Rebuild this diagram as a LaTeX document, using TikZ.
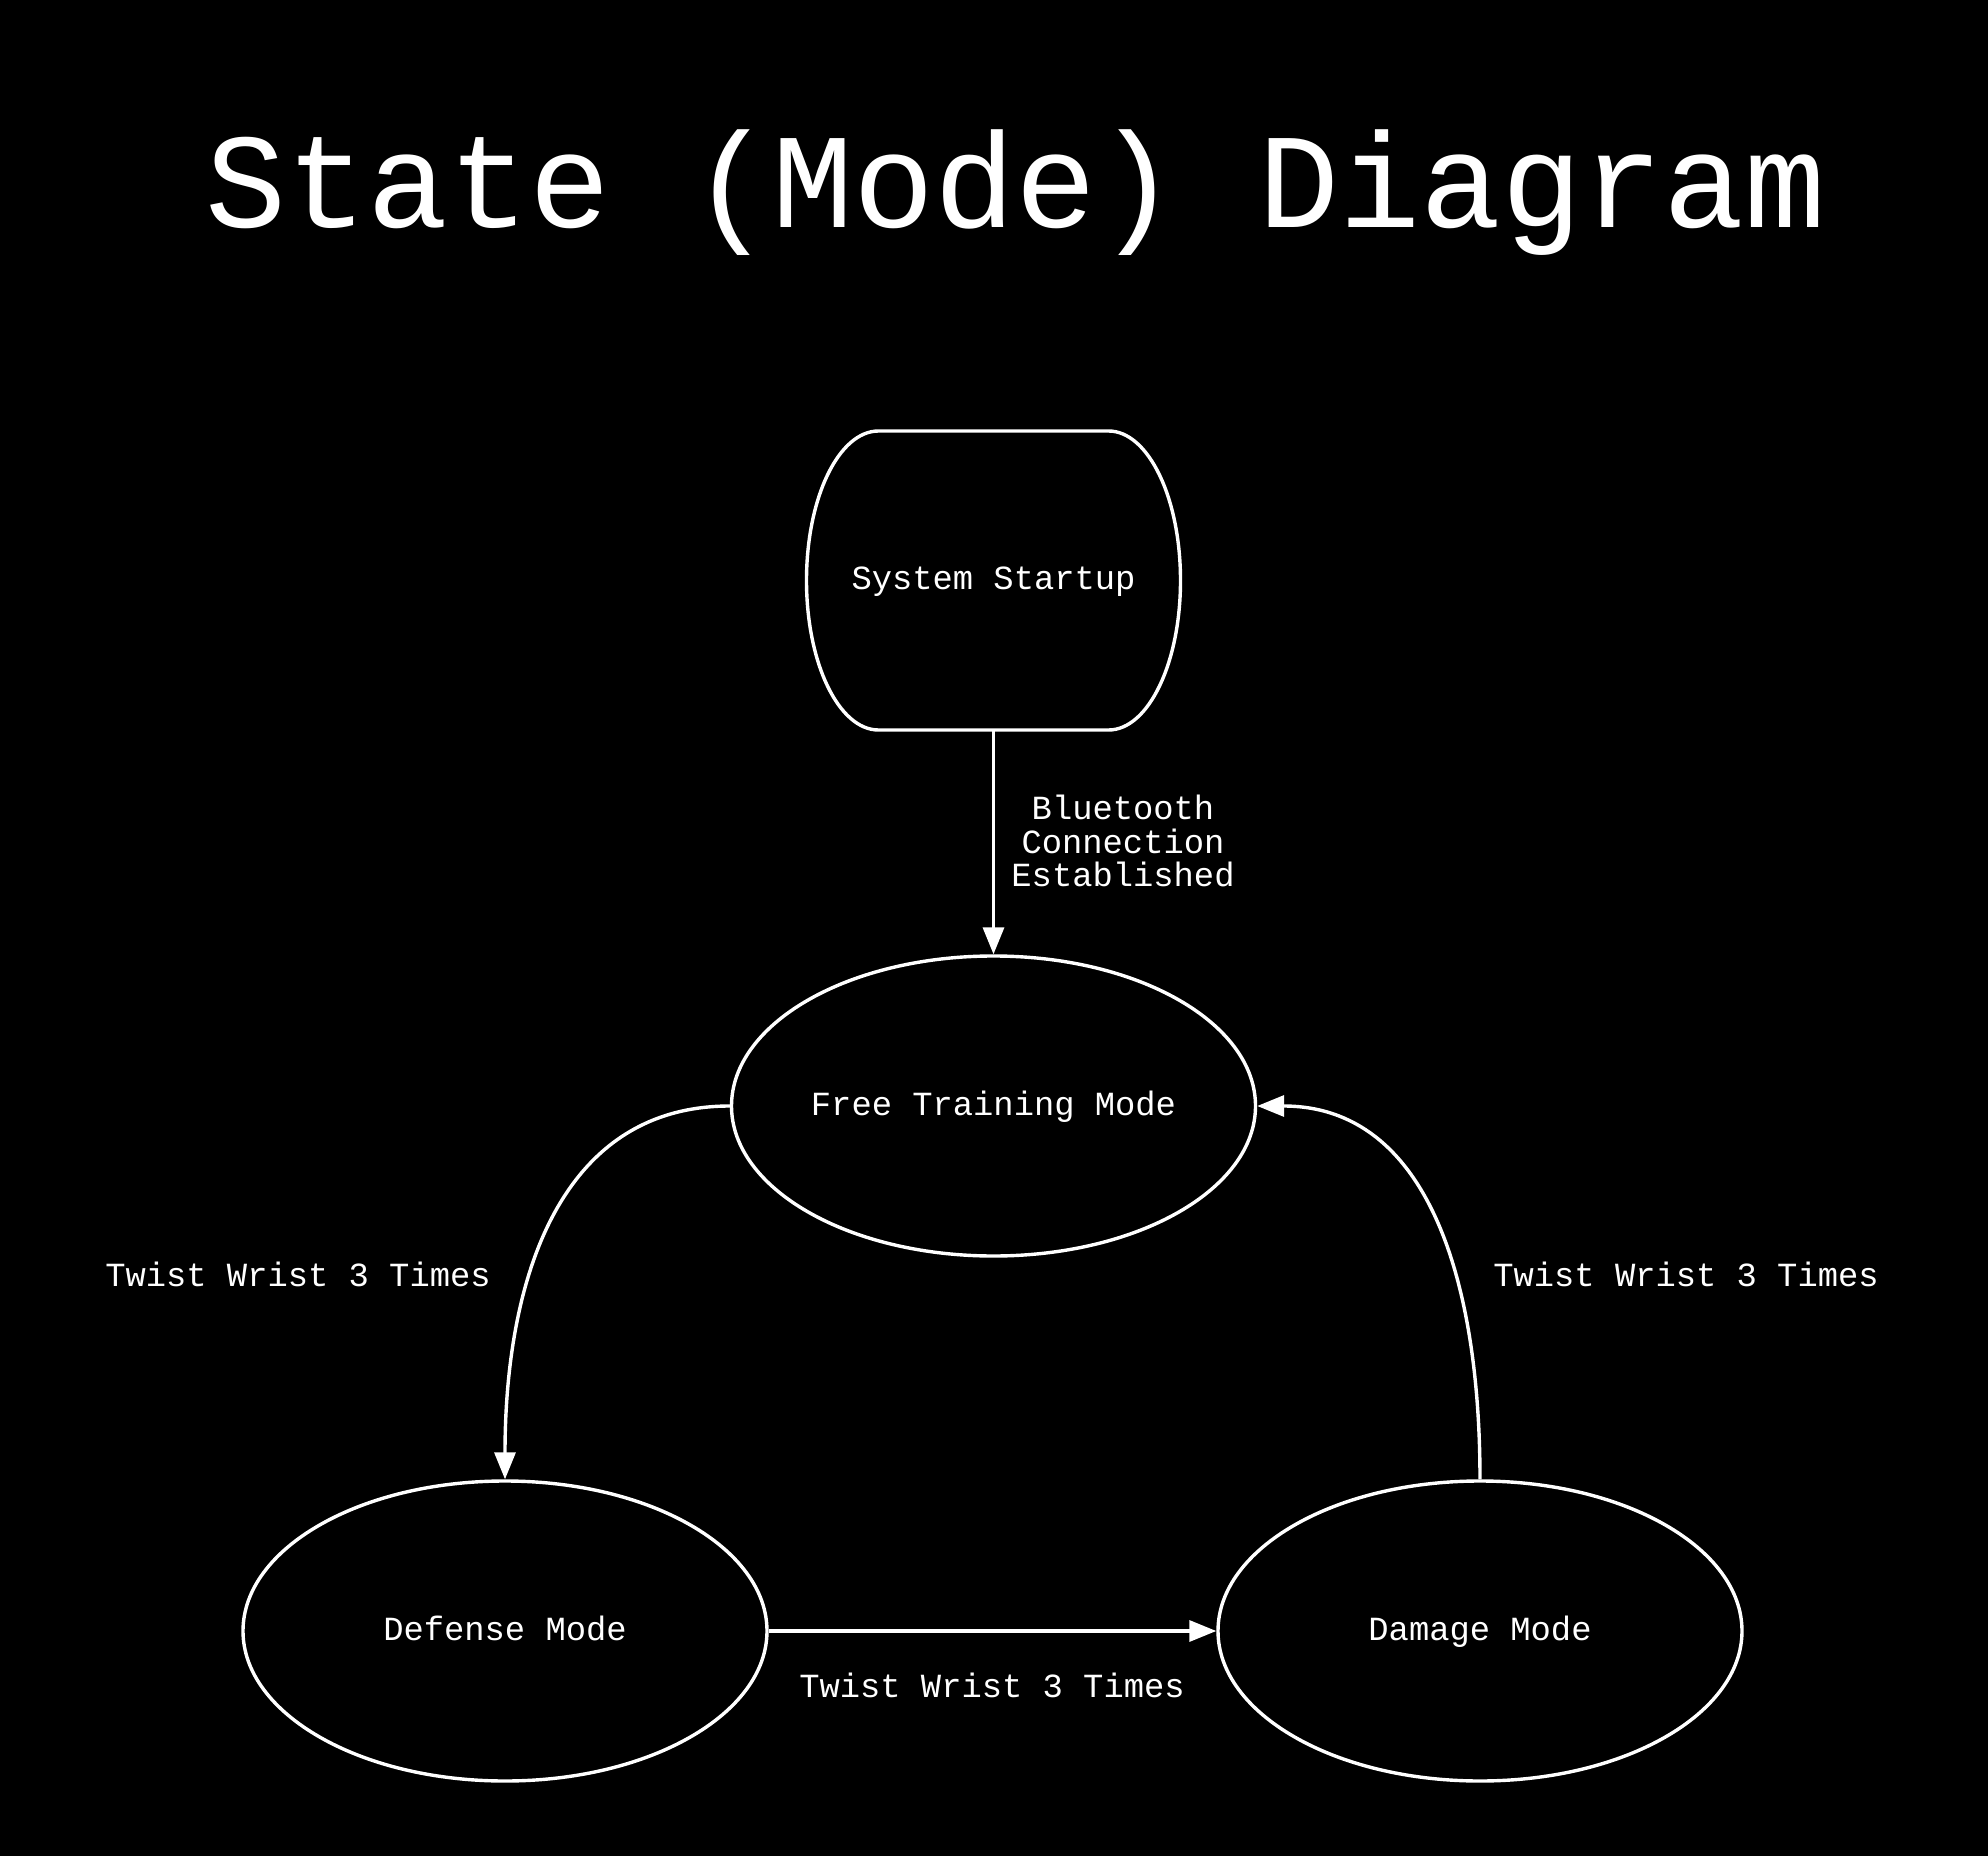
\documentclass[tikz,border=0pt]{standalone}
\usepackage{fontspec}
\setmonofont{Liberation Mono}
\usetikzlibrary{arrows.meta,shapes.geometric}

\begin{document}
\begin{tikzpicture}[x=0.5pt,y=-0.5pt,line width=1.7pt,white,
  tx/.style={font=\ttfamily\fontsize{16.9}{16.8}\selectfont,text=white},
  st/.style={ellipse,draw=white,tx,minimum width=262pt,minimum height=150pt,inner sep=0pt,text height=0.9em,text depth=0pt},
  ar/.style={draw=white,-{Triangle[length=13.5pt,width=10.5pt]}}]
  \fill[black] (0,0) rectangle (1988,1856);

  \node[font=\ttfamily\fontsize{67.5}{70}\selectfont,anchor=base] (title) at (1016,228) {State (Mode) Diagram};

  \node[tx,minimum width=187pt,minimum height=149.5pt,inner sep=0pt,outer sep=0pt,text height=0.9em,text depth=0pt] (start) at (993.5,580.5) {System Startup};
  \draw ([xshift=36pt]start.north west) -- ([xshift=-36pt]start.north east)
    arc[start angle=90,end angle=-90,x radius=36pt,y radius=74.75pt] -- ([xshift=36pt]start.south west)
    arc[start angle=270,end angle=90,x radius=36pt,y radius=74.75pt] -- cycle;

  \node[st] (free) at (993.5,1106) {Free Training Mode};
  \node[st] (def) at (505,1631) {Defense Mode};
  \node[st] (dmg) at (1480,1631) {Damage Mode};

  \draw[ar] (start.south) -- (free.north);
  \node[tx,align=center] (bt) at (1123,841) {Bluetooth\\Connection\\Established};

  \draw[ar] (free.west) .. controls +(-170,0) and +(0,-200) .. (def.north);
  \draw[ar] (def.east) -- (dmg.west);
  \draw[ar] (dmg.north) .. controls +(0,-200) and +(170,0) .. (free.east);

  \node[tx,anchor=base] (twl) at (298,1286) {Twist Wrist 3 Times};
  \node[tx,anchor=base] (twr) at (1686,1286) {Twist Wrist 3 Times};
  \node[tx,anchor=base] (twb) at (992,1697) {Twist Wrist 3 Times};
\end{tikzpicture}
\end{document}
